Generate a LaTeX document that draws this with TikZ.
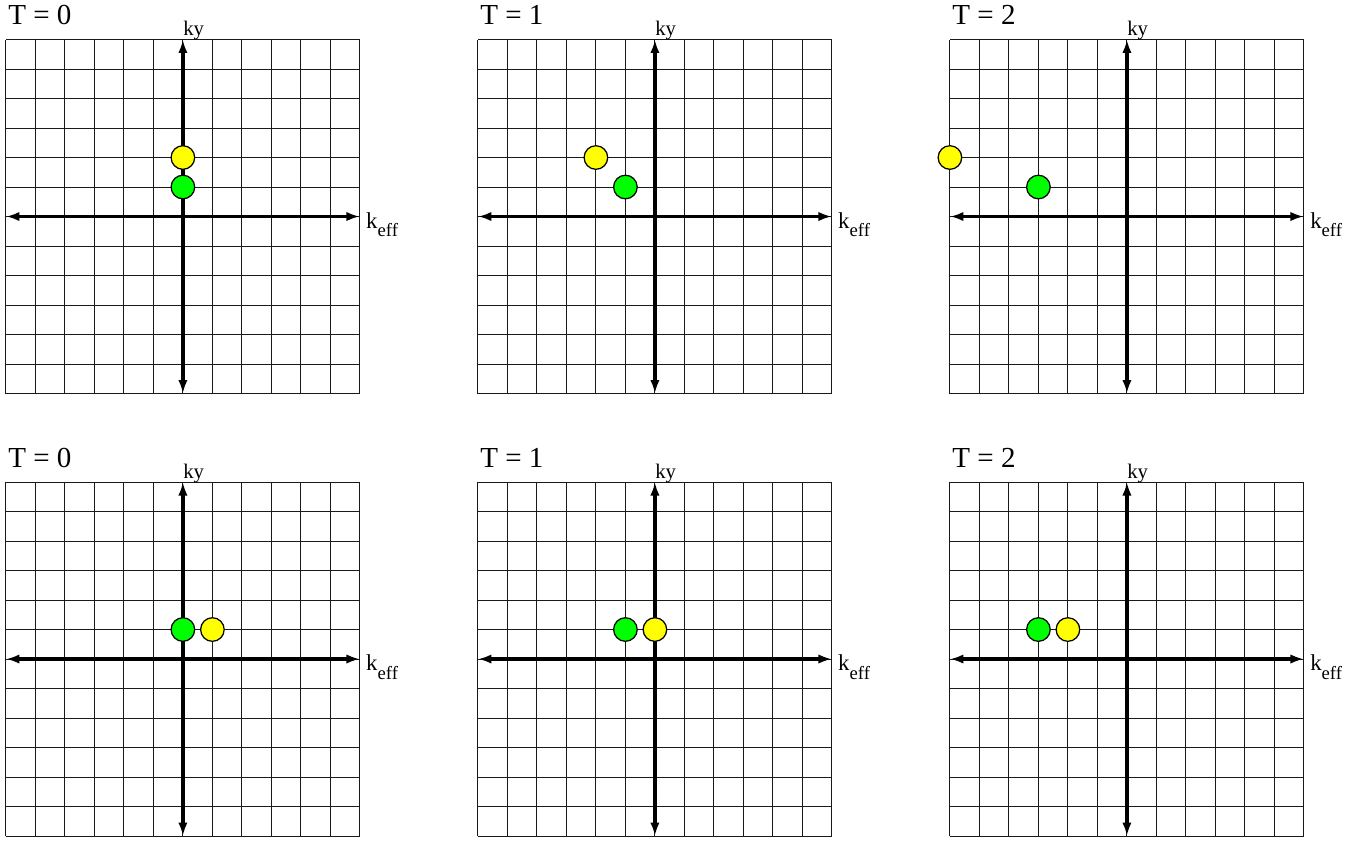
\documentclass[tikz,border=0pt]{standalone}
\usepackage{fontspec}
\setmainfont{Liberation Serif}
\usetikzlibrary{arrows.meta}
\definecolor{dotyellow}{RGB}{255,255,0}
\definecolor{dotgreen}{RGB}{0,255,0}
\tikzset{
  gridln/.style={line width=0.45pt, black!90},
  axarr/.style={{Latex[length=6.5pt,width=4.5pt]}-{Latex[length=6.5pt,width=4.5pt]}, line width=1.6pt},
  dot/.style={circle, draw, line width=0.6pt, inner sep=0pt, minimum size=0.4cm},
  tlbl/.style={anchor=base west, inner sep=0pt, font=\fontsize{14}{16}\selectfont},
  axlbl/.style={anchor=base west, inner sep=0pt},
}

\begin{document}
\begin{tikzpicture}[scale=0.5]
  \useasboundingbox (-0.2,-0.14) rectangle (46.07,28.34);
  % panel id / offset / time / green / yellow
  \foreach \id/\ox/\oy/\t/\gx/\gy/\yx/\yy in {
      a/0/15/0/0/1/0/2, b/16/15/1/-1/1/-2/2, c/32/15/2/-3/1/-6/2,
      d/0/0/0/0/1/1/1, e/16/0/1/-1/1/0/1, f/32/0/2/-3/1/-2/1}{
    \begin{scope}[shift={(\ox,\oy)}]
      \draw[gridln] (0,0) grid (12,12);
      \coordinate (l\id) at (0,6);
      \coordinate (r\id) at (12,6);
      \coordinate (b\id) at (6,0);
      \coordinate (t\id) at (6,12);
      \draw[axarr] (l\id) -- (r\id);
      \draw[axarr] (b\id) -- (t\id);
      \node[tlbl] (T\id) at (0.07,12.5) {T = \t};
      \node[axlbl, font=\fontsize{10}{11}\selectfont] (ky\id) at (6,12.13) {ky};
      \node[axlbl, font=\fontsize{11}{12}\selectfont] (ke\id) at (12.2,5.6)
        {k\raisebox{-4pt}{\fontsize{9}{10}\selectfont eff}};
      \node[dot, fill=dotyellow] (y\id) at ({6+\yx},{6+\yy}) {};
      \node[dot, fill=dotgreen] (g\id) at ({6+\gx},{6+\gy}) {};
    \end{scope}
  }
\end{tikzpicture}
\end{document}
